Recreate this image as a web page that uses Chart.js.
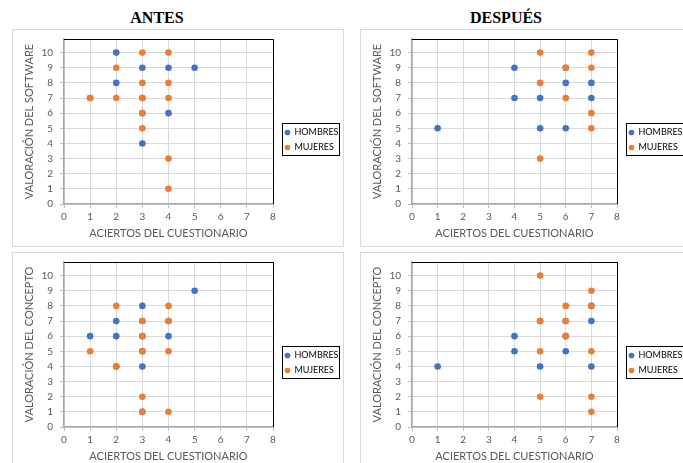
<!DOCTYPE html>
<html>
<head>
<meta charset="utf-8">
<script src="https://cdn.jsdelivr.net/npm/chart.js@4/dist/chart.umd.min.js"></script>
<style>
  body { margin: 0; width: 683px; height: 463px; overflow: hidden; background: #fff; position: relative; }
  .ttl { position: absolute; top: 9px; width: 200px; text-align: center; font: bold 16px "Liberation Serif", serif; color: #000; }
  .box { position: absolute; border: 1px solid #d9d9d9; box-sizing: border-box; overflow: hidden; background: #fff; }
  .box canvas { position: absolute; left: 0; top: 0; }
</style>
</head>
<body>
<div class="ttl" style="left:57px">ANTES</div>
<div class="ttl" style="left:406px">DESPUÉS</div>

<div class="box" style="left:12px;top:29px;width:332px;height:218px"><canvas id="c1" width="331" height="217"></canvas></div>
<div class="box" style="left:360px;top:29px;width:330px;height:218px"><canvas id="c2" width="324" height="217"></canvas></div>
<div class="box" style="left:12px;top:252px;width:332px;height:230px"><canvas id="c3" width="331" height="217"></canvas></div>
<div class="box" style="left:360px;top:252px;width:330px;height:230px"><canvas id="c4" width="324" height="217"></canvas></div>

<script>
// values (x = aciertos, y = valoración)
const antesSwHX = [2, 3, 4, 5, 2, 1, 3, 3, 4, 3]
const antesSwHY = [10, 9, 9, 9, 8, 7, 7, 6, 6, 4]
const antesSwMX = [3, 4, 2, 3, 4, 1, 2, 3, 4, 3, 3, 4, 4]
const antesSwMY = [10, 10, 9, 8, 8, 7, 7, 7, 7, 6, 5, 3, 1]

const despuesSwHX = [1, 4, 4, 5, 6, 7, 7, 5, 6, 6]
const despuesSwHY = [5, 9, 7, 7, 8, 8, 7, 5, 5, 9]
const despuesSwMX = [5, 7, 6, 7, 5, 6, 7, 7, 5]
const despuesSwMY = [10, 10, 9, 9, 8, 7, 6, 5, 3]

const antesConHX = [5, 3, 2, 3, 4, 1, 2, 3, 4, 3, 2, 3, 3]
const antesConHY = [9, 8, 7, 7, 7, 6, 6, 6, 6, 5, 4, 4, 1]
const antesConMX = [2, 4, 3, 4, 3, 1, 3, 4, 2, 3, 3, 4]
const antesConMY = [8, 8, 7, 7, 6, 5, 5, 5, 4, 2, 1, 1]

const despuesConHX = [1, 4, 4, 5, 7, 6, 7, 5, 6, 6, 7]
const despuesConHY = [4, 6, 5, 4, 4, 5, 7, 7, 7, 6, 8]
const despuesConMX = [5, 7, 6, 7, 5, 6, 6, 5, 7, 5, 7, 7]
const despuesConMY = [10, 9, 8, 8, 7, 7, 6, 5, 5, 2, 2, 1]

const yTicks = [0, 1, 2, 3, 4, 5, 6, 7, 8, 9, 10]
const seriesNames = ["HOMBRES", "MUJERES"]
const xTitle = "ACIERTOS DEL CUESTIONARIO"

const BLUE = "#4472C4"
const ORANGE = "#ED7D31"
const FONT = "Lato"

// black top/right edge of the plot area, frame round the legend, legend nudged a bit
const framePlugin = {
    id: "frame",
    afterLayout(chart) {
        const lg = chart.legend
        lg.left += 6
        lg.right += 6
        lg.top -= 3
        lg.bottom -= 3
    },
    beforeDatasetsDraw(chart) {
        const a = chart.chartArea
        const ctx = chart.ctx
        const l = Math.round(a.left), r = Math.round(a.right) + 0.5
        const t = Math.round(a.top) + 0.5, b = Math.round(a.bottom)
        ctx.save()
        ctx.strokeStyle = "#000"
        ctx.lineWidth = 1
        ctx.beginPath()
        ctx.moveTo(l, t)
        ctx.lineTo(r, t)
        ctx.lineTo(r, b)
        ctx.stroke()
        ctx.restore()
    },
    afterDraw(chart) {
        const hb = chart.legend.legendHitBoxes
        if (!hb || !hb.length) return
        const l = Math.min(...hb.map(h => h.left)) - 3
        const t = Math.min(...hb.map(h => h.top)) - 5
        const r = Math.max(...hb.map(h => h.left + h.width)) + 1
        const b = Math.max(...hb.map(h => h.top + h.height)) + 3
        const ctx = chart.ctx
        ctx.save()
        ctx.strokeStyle = "#000"
        ctx.lineWidth = 1
        ctx.strokeRect(Math.round(l) + 0.5, Math.round(t) + 0.5, Math.round(r - l), Math.round(b - t))
        ctx.restore()
    }
}

const toPoints = (xs, ys) => xs.map((x, i) => ({ x: x, y: ys[i] }))

const makeChart = (id, yTitle, hx, hy, mx, my, legendArea) => {
    const chart = new Chart(document.getElementById(id), {
        type: "scatter",
        data: {
            datasets: [
                { label: seriesNames[0], data: toPoints(hx, hy), backgroundColor: BLUE, borderColor: BLUE, pointRadius: 3.3, borderWidth: 0, order: 2 },
                { label: seriesNames[1], data: toPoints(mx, my), backgroundColor: ORANGE, borderColor: ORANGE, pointRadius: 3.3, borderWidth: 0, order: 1 }
            ]
        },
        options: {
            responsive: false,
            animation: false,
            layout: { padding: { top: 9, right: 0, left: 0, bottom: 0 } },
            plugins: {
                tooltip: { enabled: false },
                legend: {
                    position: "right",
                    labels: {
                        usePointStyle: true,
                        pointStyle: "circle",
                        boxWidth: 5,
                        boxHeight: 4,
                        padding: 6,
                        color: "#000",
                        font: { family: FONT, size: 9 },
                        sort: (a, b) => a.datasetIndex - b.datasetIndex
                    }
                }
            },
            scales: {
                x: {
                    type: "linear",
                    min: 0,
                    max: 8,
                    afterFit: s => { s.height = 43; s.paddingLeft = 0; s.paddingRight = 0 },
                    ticks: { stepSize: 1, color: "#595959", padding: 3, font: { family: FONT, size: 10 } },
                    grid: { color: "#d9d9d9", tickColor: "#bfbfbf", tickLength: 4 },
                    border: { color: "#a6a6a6", width: 1.5 },
                    title: { display: true, text: xTitle, color: "#595959", padding: { top: 7, bottom: 7 }, font: { family: FONT, size: 11 } }
                },
                y: {
                    type: "linear",
                    min: 0,
                    max: 10.9,
                    afterBuildTicks: s => { s.ticks = yTicks.map(v => ({ value: v })) },
                    afterFit: s => { s.width = 51; s.paddingTop = 0; s.paddingBottom = 0 },
                    ticks: { color: "#595959", padding: 7, font: { family: FONT, size: 10 } },
                    grid: { color: "#d9d9d9", tickColor: "#bfbfbf", tickLength: 4 },
                    border: { color: "#a6a6a6", width: 1.5 },
                    title: { display: true, text: yTitle, color: "#595959", padding: { top: 10, bottom: 0 }, font: { family: FONT, size: 11 } }
                }
            }
        },
        plugins: [framePlugin]
    })
    // the legend takes exactly legendArea pixels on the right
    const fit = chart.legend.fit
    chart.legend.fit = function () {
        fit.call(this)
        this.width = legendArea
    }
    chart.update()
}

makeChart("c1", "VALORACIÓN DEL SOFTWARE", antesSwHX, antesSwHY, antesSwMX, antesSwMY, 71)
makeChart("c2", "VALORACIÓN DEL SOFTWARE", despuesSwHX, despuesSwHY, despuesSwMX, despuesSwMY, 68)
makeChart("c3", "VALORACIÓN DEL CONCEPTO", antesConHX, antesConHY, antesConMX, antesConMY, 71)
makeChart("c4", "VALORACIÓN DEL CONCEPTO", despuesConHX, despuesConHY, despuesConMX, despuesConMY, 68)
</script>
</body>
</html>
